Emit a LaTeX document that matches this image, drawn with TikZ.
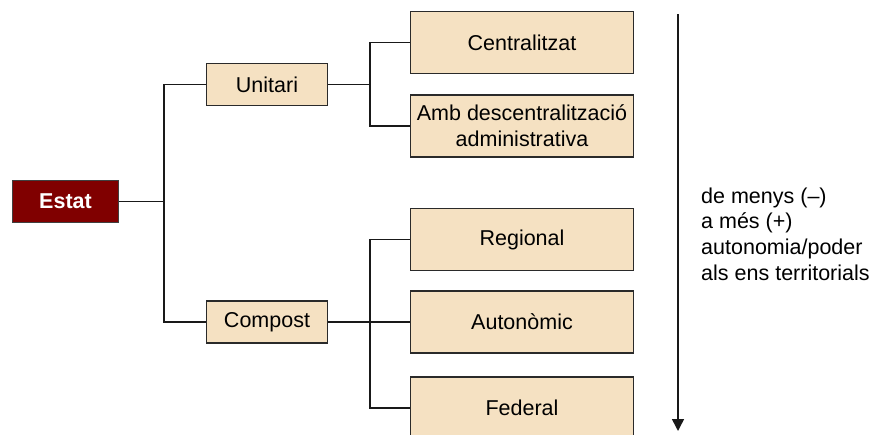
\documentclass[tikz,border=0pt]{standalone}
\usepackage{fontspec}
\setmainfont{Liberation Sans}
\usetikzlibrary{arrows.meta}
\definecolor{beige}{HTML}{F5E1C2}
\definecolor{darkred}{HTML}{800000}
\definecolor{edge}{HTML}{2A2A2A}
\begin{document}
\begin{tikzpicture}[x=1pt,y=-1pt,
  every node/.style={font=\fontsize{21.5}{25.7}\selectfont, inner sep=0pt},
  box/.style={draw=edge, line width=1.8pt, fill=beige, align=center},
  small/.style={box, minimum width=121pt, minimum height=42pt},
  big/.style={box, minimum width=223pt, minimum height=62pt},
  conn/.style={draw=black!90, line width=1.5pt}]
\useasboundingbox (0,0) rectangle (873,434);
\clip (0,0) rectangle (873,434);
\node[box, fill=darkred, draw=black!75, minimum width=106pt, minimum height=42pt, text=white, font=\fontsize{21.5}{25.7}\selectfont\bfseries] (estat) at (65.5,201.5) {Estat};
\node[small] (unitari) at (267,84.5) {Unitari};
\node[small] (compost) at (267,322) {Compost};
\node[big] (cent) at (522,42.5) {Centralitzat};
\node[big] (amb) at (522,126) {Amb descentralització\\administrativa};
\node[big] (reg) at (522,239.5) {Regional};
\node[big] (aut) at (522,322) {Autonòmic};
\node[big] (fed) at (522,408) {Federal};
\coordinate (ja) at (164,0);
\coordinate (jb) at (370,0);
\draw[conn] (estat.east) -- (estat.east -| ja);
\draw[conn] (unitari.west) -- (unitari.west -| ja) -- (compost.west -| ja) -- (compost.west);
\draw[conn] (unitari.east) -- (unitari.east -| jb);
\draw[conn] (cent.west) -- (cent.west -| jb) -- (amb.west -| jb) -- (amb.west);
\draw[conn] (reg.west) -- (reg.west -| jb) -- (fed.west -| jb) -- (fed.west);
\draw[conn] (compost.east) -- (aut.west);
\coordinate (at) at (678,14);
\coordinate (ab) at (678,431);
\draw[conn, -{Triangle[width=12pt,length=12pt]}] (at) -- (ab);
\node[anchor=west, align=left] (note) at (701,234) {de menys (–)\\a més (+)\\autonomia/poder\\als ens territorials};
\end{tikzpicture}
\end{document}
